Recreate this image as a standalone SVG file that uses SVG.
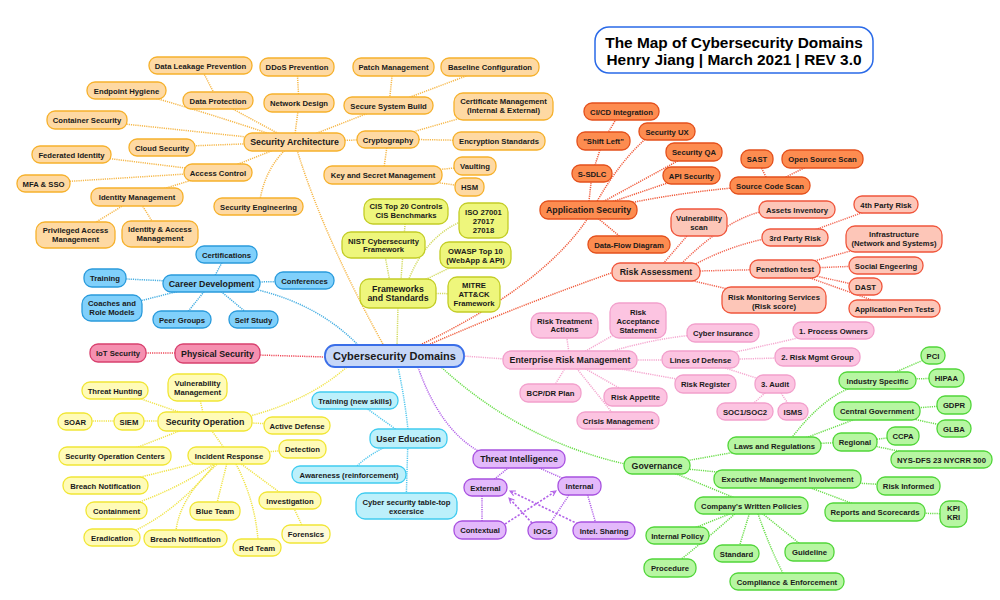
<svg xmlns="http://www.w3.org/2000/svg" width="1000" height="600" viewBox="0 0 1000 600">
<style>
text{font-family:"Liberation Sans",Arial,sans-serif;font-weight:bold;font-size:7.7px;text-anchor:middle;fill:#1a1a1a}
.m text{font-size:8.8px}
rect{stroke-width:1.3}
.sa rect{fill:#fed9a3;stroke:#f6b12c}
.fw rect{fill:#eef67c;stroke:#c3cd26}
.as rect{fill:#fd8c50;stroke:#e4501c}
.ra rect{fill:#fdc6b8;stroke:#f0563c}
.cd rect{fill:#80d0fb;stroke:#2a9bdc}
.ps rect{fill:#f590b0;stroke:#d8406e}
.so rect{fill:#fffbb8;stroke:#f1e636}
.ue rect{fill:#bcf0fb;stroke:#40ccf0}
.ti rect{fill:#e3b9fb;stroke:#a852e0}
.gv rect{fill:#b7f6a2;stroke:#52d63a}
.erm rect{fill:#fcc4e1;stroke:#f2a0cc}
.ctr rect{fill:#c6d7f8;stroke:#3a6ee8;stroke-width:1.8}
.ctr text{font-size:11px}
.ttl rect{fill:#fff;stroke:#2a6ae8;stroke-width:1.5}
.ttl text{font-size:15.4px;fill:#000}
#connectors path{fill:none;stroke-width:1.5;stroke-dasharray:1.2 1}
.csa{stroke:#f6b84a}.cfw{stroke:#d2da5e}.cas{stroke:#f05a3a}.cra{stroke:#f26450}.ccd{stroke:#45aee2}
.cps{stroke:#ee4a5a}.cso{stroke:#f0e448}.cue{stroke:#55c8ee}.cti{stroke:#b262e8}.cgv{stroke:#6ade4a}.cerm{stroke:#f5a8d0}
#connectors path.arr{stroke:#b262e8;stroke-width:1.6;stroke-dasharray:2.2 1.6;marker-end:url(#ah)}
</style>
<defs>
<marker id="ah" viewBox="0 0 8 8" refX="7" refY="4" markerWidth="7" markerHeight="7" orient="auto" markerUnits="userSpaceOnUse">
<path d="M1,1 L7,4 L1,7" fill="none" stroke="#b262e8" stroke-width="1.2"/>
</marker>
</defs>
<rect width="1000" height="600" fill="#fff"/>
<g id="connectors">
<!-- main branches -->
<path class="csa" d="M384,346 Q325,240 297,150"/>
<path class="cfw" d="M397,346 L398,306"/>
<path class="cas" d="M420,345 Q545,285 590,215"/>
<path class="cas" d="M428,345 Q520,305 614,272"/>
<path class="ccd" d="M258,290 Q320,305 360,347"/>
<path class="cps" d="M258,355 L326,357"/>
<path class="cso" d="M250,416 Q310,400 348,366"/>
<path class="cue" d="M398,367 Q405,400 408,430"/>
<path class="cti" d="M418,367 Q440,430 480,452"/>
<path class="cgv" d="M440,366 Q520,440 625,464"/>
<path class="cerm" d="M463,356 L505,359"/>
<!-- security architecture -->
<path class="csa" d="M294,142 L218,101"/>
<path class="csa" d="M218,101 L200,66"/>
<path class="csa" d="M294,142 Q200,110 126,90"/>
<path class="csa" d="M294,142 L87,120"/>
<path class="csa" d="M294,142 L162,147"/>
<path class="csa" d="M294,142 L218,172"/>
<path class="csa" d="M218,172 L72,154"/>
<path class="csa" d="M218,172 L43,183"/>
<path class="csa" d="M218,172 L137,197"/>
<path class="csa" d="M137,197 L75,235"/>
<path class="csa" d="M137,197 L160,234"/>
<path class="csa" d="M260,200 Q265,170 285,150"/>
<path class="csa" d="M294,142 L299,103"/>
<path class="csa" d="M299,103 L297,67"/>
<path class="csa" d="M294,142 L389,105"/>
<path class="csa" d="M389,105 L393,67"/>
<path class="csa" d="M389,105 L490,67"/>
<path class="csa" d="M294,142 L388,139"/>
<path class="csa" d="M388,139 L503,106"/>
<path class="csa" d="M388,139 L499,141"/>
<path class="csa" d="M388,139 L383,175"/>
<path class="csa" d="M383,175 L475,166"/>
<path class="csa" d="M383,175 L469,187"/>
<!-- frameworks -->
<path class="cfw" d="M392,293 L383,245"/>
<path class="cfw" d="M400,293 L406,211"/>
<path class="cfw" d="M404,293 Q420,240 460,222"/>
<path class="cfw" d="M398,293 L476,255"/>
<path class="cfw" d="M398,293 L474,294"/>
<!-- application security -->
<path class="cas" d="M588,210 L592,174"/>
<path class="cas" d="M592,174 L603,141"/>
<path class="cas" d="M603,141 L621,111"/>
<path class="cas" d="M595,205 Q620,160 650,135"/>
<path class="cas" d="M588,210 L694,152"/>
<path class="cas" d="M588,210 L691,175"/>
<path class="cas" d="M620,205 Q690,190 770,185"/>
<path class="cas" d="M770,185 L757,159"/>
<path class="cas" d="M770,185 L822,159"/>
<path class="cas" d="M588,210 L629,244"/>
<!-- risk assessment -->
<path class="cra" d="M656,272 L699,222"/>
<path class="cra" d="M680,265 Q730,215 770,210"/>
<path class="cra" d="M690,267 Q730,245 770,238"/>
<path class="cra" d="M795,237 L886,204"/>
<path class="cra" d="M656,272 L785,269"/>
<path class="cra" d="M785,269 L894,239"/>
<path class="cra" d="M785,269 L886,265"/>
<path class="cra" d="M785,269 L865,287"/>
<path class="cra" d="M785,269 L894,308"/>
<path class="cra" d="M656,272 L774,300"/>
<!-- career development -->
<path class="ccd" d="M211,283 L226,255"/>
<path class="ccd" d="M211,283 L105,278"/>
<path class="ccd" d="M211,283 L304,281"/>
<path class="ccd" d="M211,283 L112,308"/>
<path class="ccd" d="M211,283 L182,319"/>
<path class="ccd" d="M211,283 L254,319"/>
<!-- physical -->
<path class="cps" d="M217,353 L118,353"/>
<!-- security operation -->
<path class="cso" d="M205,421 L115,390"/>
<path class="cso" d="M205,421 L197,387"/>
<path class="cso" d="M205,421 L129,421"/>
<path class="cso" d="M129,421 L75,421"/>
<path class="cso" d="M205,421 L297,425"/>
<path class="cso" d="M205,421 L115,456"/>
<path class="cso" d="M205,421 L229,455"/>
<path class="cso" d="M229,455 L302,449"/>
<path class="cso" d="M229,455 L105,486"/>
<path class="cso" d="M222,458 Q180,490 116,510"/>
<path class="cso" d="M218,460 Q180,510 130,533"/>
<path class="cso" d="M222,460 Q180,495 176,531"/>
<path class="cso" d="M229,455 L215,511"/>
<path class="cso" d="M235,462 Q255,500 258,540"/>
<path class="cso" d="M229,455 L290,500"/>
<path class="cso" d="M290,500 L306,534"/>
<!-- user education -->
<path class="cue" d="M408,438 L355,400"/>
<path class="cue" d="M408,438 Q370,450 349,474"/>
<path class="cue" d="M408,438 L406,506"/>
<!-- threat intelligence -->
<path class="cti" d="M519,459 L485,487"/>
<path class="cti" d="M519,459 L580,486"/>
<path class="cti" d="M482,487 L482,530"/>
<path class="cti" d="M575,486 L545,531"/>
<path class="cti" d="M585,486 L598,531"/>
<path class="arr" d="M505,524 L556,491"/>
<path class="arr" d="M532,523 L509,498"/>
<path class="arr" d="M578,524 L510,491"/>
<!-- governance -->
<path class="cgv" d="M657,466 L775,445"/>
<path class="cgv" d="M790,440 Q820,400 850,388"/>
<path class="cgv" d="M800,440 L877,411"/>
<path class="cgv" d="M775,445 L855,442"/>
<path class="cgv" d="M877,380 L933,356"/>
<path class="cgv" d="M877,380 L947,378"/>
<path class="cgv" d="M877,411 L954,405"/>
<path class="cgv" d="M877,411 L954,428"/>
<path class="cgv" d="M855,442 L903,436"/>
<path class="cgv" d="M855,442 L941,460"/>
<path class="cgv" d="M657,466 L787,479"/>
<path class="cgv" d="M787,479 L908,486"/>
<path class="cgv" d="M787,479 L875,512"/>
<path class="cgv" d="M875,512 L953,514"/>
<path class="cgv" d="M657,466 L752,505"/>
<path class="cgv" d="M752,505 L677,535"/>
<path class="cgv" d="M752,505 L737,554"/>
<path class="cgv" d="M752,505 L810,552"/>
<path class="cgv" d="M745,505 Q700,545 670,568"/>
<path class="cgv" d="M755,505 Q770,550 787,581"/>
<!-- enterprise risk management -->
<path class="cerm" d="M570,360 L565,325"/>
<path class="cerm" d="M570,360 L638,321"/>
<path class="cerm" d="M600,355 Q660,335 723,333"/>
<path class="cerm" d="M570,360 L700,360"/>
<path class="cerm" d="M570,360 L705,384"/>
<path class="cerm" d="M570,360 L550,393"/>
<path class="cerm" d="M570,360 L635,397"/>
<path class="cerm" d="M570,360 L618,420"/>
<path class="cerm" d="M700,360 L834,330"/>
<path class="cerm" d="M700,360 L818,357"/>
<path class="cerm" d="M700,360 L775,384"/>
<path class="cerm" d="M775,384 L745,411"/>
<path class="cerm" d="M775,384 L793,411"/>
</g>

<g id="title" class="ttl"><rect x="595" y="27" width="278" height="46" rx="14"/><text x="734" y="48.4">The Map of Cybersecurity Domains</text><text x="734" y="64.8">Henry Jiang | March 2021 | REV 3.0</text></g>
<g id="center" class="ctr"><rect x="325" y="345" width="139" height="22" rx="10"/><text x="394.5" y="359.8">Cybersecurity Domains</text></g>

<!-- Security Architecture -->
<g id="security-architecture" class="sa m"><rect x="244" y="133" width="101" height="18" rx="8"/><text x="294.5" y="145.1">Security Architecture</text></g>
<g id="data-leakage-prevention" class="sa"><rect x="149" y="57" width="103" height="17" rx="8"/><text x="200.5" y="68.5">Data Leakage Prevention</text></g>
<g id="endpoint-hygiene" class="sa"><rect x="87" y="82" width="79" height="17" rx="8"/><text x="126.5" y="93.5">Endpoint Hygiene</text></g>
<g id="data-protection" class="sa"><rect x="183" y="92" width="70" height="17" rx="8"/><text x="218" y="103.5">Data Protection</text></g>
<g id="container-security" class="sa"><rect x="47" y="111" width="80" height="18" rx="8"/><text x="87" y="122.8">Container Security</text></g>
<g id="cloud-security" class="sa"><rect x="129" y="139" width="66" height="17" rx="8"/><text x="162" y="150.5">Cloud Security</text></g>
<g id="federated-identity" class="sa"><rect x="32" y="146" width="79" height="17" rx="8"/><text x="71.5" y="157.5">Federated Identity</text></g>
<g id="access-control" class="sa"><rect x="184" y="164" width="68" height="17" rx="8"/><text x="218" y="175.5">Access Control</text></g>
<g id="mfa-sso" class="sa"><rect x="17" y="175" width="53" height="17" rx="8"/><text x="43.5" y="186.5">MFA &amp; SSO</text></g>
<g id="identity-management" class="sa"><rect x="91" y="188" width="92" height="18" rx="8"/><text x="137" y="199.8">Identity Management</text></g>
<g id="privileged-access-management" class="sa"><rect x="36" y="222" width="79" height="26" rx="9"/><text x="75.5" y="233.3">Privileged Access</text><text x="75.5" y="242.3">Management</text></g>
<g id="identity-access-management" class="sa"><rect x="122" y="221" width="76" height="26" rx="9"/><text x="160" y="232.3">Identity &amp; Access</text><text x="160" y="241.3">Management</text></g>
<g id="security-engineering" class="sa"><rect x="214" y="198" width="89" height="17" rx="8"/><text x="258.5" y="209.5">Security Engineering</text></g>
<g id="ddos-prevention" class="sa"><rect x="260" y="58" width="74" height="18" rx="8"/><text x="297" y="69.8">DDoS Prevention</text></g>
<g id="network-design" class="sa"><rect x="264" y="94" width="70" height="18" rx="8"/><text x="299" y="105.8">Network Design</text></g>
<g id="patch-management" class="sa"><rect x="353" y="58" width="81" height="18" rx="8"/><text x="393.5" y="69.8">Patch Management</text></g>
<g id="baseline-configuration" class="sa"><rect x="441" y="58" width="98" height="18" rx="8"/><text x="490" y="69.8">Baseline Configuration</text></g>
<g id="secure-system-build" class="sa"><rect x="344" y="97" width="89" height="17" rx="8"/><text x="388.5" y="108.5">Secure System Build</text></g>
<g id="certificate-management" class="sa"><rect x="454" y="93" width="99" height="27" rx="9"/><text x="503.5" y="104.3">Certificate Management</text><text x="503.5" y="113.3">(Internal &amp; External)</text></g>
<g id="cryptography" class="sa"><rect x="357" y="131" width="62" height="17" rx="8"/><text x="388" y="142.5">Cryptography</text></g>
<g id="encryption-standards" class="sa"><rect x="453" y="132" width="92" height="18" rx="8"/><text x="499" y="143.8">Encryption Standards</text></g>
<g id="key-secret-management" class="sa"><rect x="324" y="166" width="118" height="18" rx="8"/><text x="383" y="177.8">Key and Secret Management</text></g>
<g id="vaulting" class="sa"><rect x="454" y="157" width="42" height="18" rx="8"/><text x="475" y="168.8">Vaulting</text></g>
<g id="hsm" class="sa"><rect x="455" y="178" width="29" height="18" rx="8"/><text x="469.5" y="189.8">HSM</text></g>

<!-- Frameworks -->
<g id="frameworks-standards" class="fw m"><rect x="360" y="279" width="76" height="29" rx="9"/><text x="398" y="292.1">Frameworks</text><text x="398" y="301.4">and Standards</text></g>
<g id="cis" class="fw"><rect x="364" y="199" width="84" height="25" rx="9"/><text x="406" y="209.3">CIS Top 20 Controls</text><text x="406" y="218.3">CIS Benchmarks</text></g>
<g id="iso" class="fw"><rect x="459" y="203" width="49" height="35" rx="9"/><text x="483.5" y="214.8">ISO 27001</text><text x="483.5" y="223.8">27017</text><text x="483.5" y="232.8">27018</text></g>
<g id="nist" class="fw"><rect x="342" y="232" width="83" height="26" rx="9"/><text x="383.5" y="243.5">NIST Cybersecurity</text><text x="383.5" y="252.2">Framework</text></g>
<g id="owasp" class="fw"><rect x="440" y="242" width="71" height="26" rx="9"/><text x="475.5" y="253.5">OWASP Top 10</text><text x="475.5" y="262.8">(WebApp &amp; API)</text></g>
<g id="mitre" class="fw"><rect x="448" y="277" width="52" height="35" rx="9"/><text x="474" y="288.1">MITRE</text><text x="474" y="297.1">ATT&amp;CK</text><text x="474" y="306.1">Framework</text></g>

<!-- Application Security -->
<g id="application-security" class="as m"><rect x="540" y="201" width="97" height="18" rx="8"/><text x="588.5" y="213.1">Application Security</text></g>
<g id="cicd" class="as"><rect x="584" y="103" width="75" height="17" rx="8"/><text x="621.5" y="114.5">CI/CD Integration</text></g>
<g id="shift-left" class="as"><rect x="577" y="132" width="53" height="18" rx="8"/><text x="603.5" y="143.8">"Shift Left"</text></g>
<g id="security-ux" class="as"><rect x="639" y="123" width="56" height="17" rx="8"/><text x="667" y="134.5">Security UX</text></g>
<g id="security-qa" class="as"><rect x="666" y="143" width="56" height="18" rx="8"/><text x="694" y="154.8">Security QA</text></g>
<g id="s-sdlc" class="as"><rect x="572" y="165" width="40" height="17" rx="8"/><text x="592" y="176.5">S-SDLC</text></g>
<g id="api-security" class="as"><rect x="663" y="167" width="57" height="17" rx="8"/><text x="691.5" y="178.5">API Security</text></g>
<g id="sast" class="as"><rect x="741" y="150" width="32" height="18" rx="8"/><text x="757" y="161.8">SAST</text></g>
<g id="open-source-scan" class="as"><rect x="782" y="150" width="81" height="18" rx="8"/><text x="822.5" y="161.8">Open Source Scan</text></g>
<g id="source-code-scan" class="as"><rect x="730" y="177" width="80" height="17" rx="8"/><text x="770" y="188.5">Source Code Scan</text></g>
<g id="data-flow-diagram" class="as"><rect x="588" y="236" width="82" height="17" rx="8"/><text x="629" y="247.5">Data-Flow Diagram</text></g>

<!-- Risk Assessment -->
<g id="risk-assessment" class="ra m"><rect x="612" y="263" width="88" height="18" rx="8"/><text x="656" y="275.1">Risk Assessment</text></g>
<g id="vulnerability-scan" class="ra"><rect x="671" y="209" width="56" height="27" rx="9"/><text x="699" y="221">Vulnerability</text><text x="699" y="230">scan</text></g>
<g id="assets-inventory" class="ra"><rect x="759" y="201" width="76" height="17" rx="8"/><text x="797" y="212.5">Assets Inventory</text></g>
<g id="fourth-party-risk" class="ra"><rect x="854" y="196" width="64" height="17" rx="8"/><text x="886" y="207.5">4th Party Risk</text></g>
<g id="third-party-risk" class="ra"><rect x="762" y="229" width="66" height="17" rx="8"/><text x="795" y="240.5">3rd Party Risk</text></g>
<g id="infrastructure" class="ra"><rect x="846" y="226" width="96" height="26" rx="9"/><text x="894" y="236.8">Infrastructure</text><text x="894" y="245.8">(Network and Systems)</text></g>
<g id="penetration-test" class="ra"><rect x="750" y="260" width="70" height="18" rx="8"/><text x="785" y="271.8">Penetration test</text></g>
<g id="social-engeering" class="ra"><rect x="849" y="257" width="74" height="17" rx="8"/><text x="886" y="268.5">Social Engeering</text></g>
<g id="dast" class="ra"><rect x="849" y="278" width="33" height="17" rx="8"/><text x="865.5" y="289.5">DAST</text></g>
<g id="application-pen-tests" class="ra"><rect x="849" y="300" width="91" height="17" rx="8"/><text x="894.5" y="311.5">Application Pen Tests</text></g>
<g id="risk-monitoring" class="ra"><rect x="722" y="287" width="104" height="26" rx="9"/><text x="774" y="299.5">Risk Monitoring Services</text><text x="774" y="308.5">(Risk score)</text></g>

<!-- Career Development -->
<g id="career-development" class="cd m"><rect x="163" y="275" width="97" height="17" rx="8"/><text x="211.5" y="286.6">Career Development</text></g>
<g id="certifications" class="cd"><rect x="196" y="246" width="61" height="17" rx="8"/><text x="226.5" y="257.5">Certifications</text></g>
<g id="training" class="cd"><rect x="84" y="269" width="42" height="18" rx="8"/><text x="105" y="280.8">Training</text></g>
<g id="conferences" class="cd"><rect x="275" y="272" width="59" height="17" rx="8"/><text x="304.5" y="283.5">Conferences</text></g>
<g id="coaches" class="cd"><rect x="82" y="295" width="60" height="26" rx="9"/><text x="112" y="306.1">Coaches and</text><text x="112" y="315.1">Role Models</text></g>
<g id="peer-groups" class="cd"><rect x="153" y="311" width="58" height="17" rx="8"/><text x="182" y="322.5">Peer Groups</text></g>
<g id="self-study" class="cd"><rect x="229" y="311" width="49" height="17" rx="8"/><text x="253.5" y="322.5">Self Study</text></g>

<!-- Physical Security -->
<g id="physical-security" class="ps m"><rect x="175" y="344" width="85" height="19" rx="8"/><text x="217.5" y="356.6">Physical Security</text></g>
<g id="iot-security" class="ps"><rect x="90" y="344" width="56" height="18" rx="8"/><text x="118" y="355.8">IoT Security</text></g>

<!-- Security Operation -->
<g id="security-operation" class="so m"><rect x="158" y="412" width="94" height="19" rx="8"/><text x="205" y="424.6">Security Operation</text></g>
<g id="threat-hunting" class="so"><rect x="82" y="382" width="66" height="17" rx="8"/><text x="115" y="393.5">Threat Hunting</text></g>
<g id="vulnerability-management" class="so"><rect x="168" y="374" width="59" height="27" rx="9"/><text x="197.5" y="385.8">Vulnerability</text><text x="197.5" y="395">Management</text></g>
<g id="soar" class="so"><rect x="58" y="413" width="34" height="17" rx="8"/><text x="75" y="424.5">SOAR</text></g>
<g id="siem" class="so"><rect x="114" y="413" width="30" height="17" rx="8"/><text x="129" y="424.5">SIEM</text></g>
<g id="active-defense" class="so"><rect x="264" y="417" width="66" height="17" rx="8"/><text x="297" y="428.5">Active Defense</text></g>
<g id="soc" class="so"><rect x="59" y="447" width="112" height="18" rx="8"/><text x="115" y="458.8">Security Operation Centers</text></g>
<g id="incident-response" class="so"><rect x="188" y="447" width="82" height="17" rx="8"/><text x="229" y="458.5">Incident Response</text></g>
<g id="detection" class="so"><rect x="279" y="440" width="47" height="18" rx="8"/><text x="302.5" y="451.8">Detection</text></g>
<g id="breach-notification-1" class="so"><rect x="63" y="477" width="85" height="17" rx="8"/><text x="105.5" y="488.5">Breach Notification</text></g>
<g id="containment" class="so"><rect x="86" y="502" width="61" height="17" rx="8"/><text x="116.5" y="513.5">Containment</text></g>
<g id="blue-team" class="so"><rect x="190" y="502" width="50" height="18" rx="8"/><text x="215" y="513.8">Blue Team</text></g>
<g id="investigation" class="so"><rect x="259" y="492" width="62" height="17" rx="8"/><text x="290" y="503.5">Investigation</text></g>
<g id="eradication" class="so"><rect x="84" y="529" width="56" height="17" rx="8"/><text x="112" y="540.5">Eradication</text></g>
<g id="breach-notification-2" class="so"><rect x="144" y="530" width="83" height="17" rx="8"/><text x="185.5" y="541.5">Breach Notification</text></g>
<g id="red-team" class="so"><rect x="233" y="539" width="48" height="17" rx="8"/><text x="257" y="550.5">Red Team</text></g>
<g id="forensics" class="so"><rect x="282" y="525" width="48" height="18" rx="8" style="fill:#fffbd8"/><text x="306" y="536.8">Forensics</text></g>

<!-- User Education -->
<g id="user-education" class="ue m"><rect x="370" y="429" width="77" height="19" rx="8"/><text x="408.5" y="441.6">User Education</text></g>
<g id="training-new-skills" class="ue"><rect x="312" y="392" width="86" height="17" rx="8"/><text x="355" y="403.5">Training (new skills)</text></g>
<g id="awareness" class="ue"><rect x="292" y="466" width="114" height="17" rx="8"/><text x="349" y="477.5">Awareness (reinforcement)</text></g>
<g id="table-top" class="ue"><rect x="356" y="493" width="101" height="26" rx="9"/><text x="406.5" y="504.5">Cyber security table-top</text><text x="406.5" y="513.5">excersice</text></g>

<!-- Threat Intelligence -->
<g id="threat-intelligence" class="ti m"><rect x="473" y="450" width="92" height="18" rx="8"/><text x="519" y="462.1">Threat Intelligence</text></g>
<g id="external" class="ti"><rect x="464" y="479" width="43" height="17" rx="8"/><text x="485.5" y="490.5">External</text></g>
<g id="internal" class="ti"><rect x="558" y="477" width="43" height="18" rx="8"/><text x="579.5" y="488.8">Internal</text></g>
<g id="contextual" class="ti"><rect x="454" y="521" width="52" height="18" rx="8"/><text x="480" y="532.8">Contextual</text></g>
<g id="iocs" class="ti"><rect x="528" y="522" width="29" height="17" rx="8"/><text x="542.5" y="533.5">IOCs</text></g>
<g id="intel-sharing" class="ti"><rect x="573" y="522" width="62" height="17" rx="8"/><text x="604" y="533.5">Intel. Sharing</text></g>

<!-- Governance -->
<g id="governance" class="gv m"><rect x="624" y="457" width="66" height="17" rx="8"/><text x="657" y="468.6">Governance</text></g>
<g id="laws-regulations" class="gv"><rect x="728" y="437" width="93" height="17" rx="8"/><text x="774.5" y="448.5">Laws and Regulations</text></g>
<g id="industry-specific" class="gv"><rect x="839" y="372" width="77" height="17" rx="8"/><text x="877.5" y="383.5">Industry Specific</text></g>
<g id="pci" class="gv"><rect x="921" y="347" width="24" height="17" rx="8"/><text x="933" y="358.5">PCI</text></g>
<g id="hipaa" class="gv"><rect x="929" y="369" width="35" height="18" rx="8"/><text x="946.5" y="380.8">HIPAA</text></g>
<g id="central-government" class="gv"><rect x="834" y="402" width="86" height="18" rx="8"/><text x="877" y="413.8">Central Government</text></g>
<g id="gdpr" class="gv"><rect x="937" y="396" width="34" height="18" rx="8"/><text x="954" y="407.8">GDPR</text></g>
<g id="glba" class="gv"><rect x="937" y="420" width="34" height="17" rx="8"/><text x="954" y="431.5">GLBA</text></g>
<g id="regional" class="gv"><rect x="833" y="433" width="44" height="18" rx="8"/><text x="855" y="444.8">Regional</text></g>
<g id="ccpa" class="gv"><rect x="887" y="427" width="32" height="18" rx="8"/><text x="903" y="438.8">CCPA</text></g>
<g id="nys-dfs" class="gv"><rect x="891" y="451" width="101" height="17" rx="8"/><text x="941.5" y="462.5">NYS-DFS 23 NYCRR 500</text></g>
<g id="executive-management" class="gv"><rect x="714" y="470" width="147" height="18" rx="8"/><text x="787.5" y="481.8">Executive Management Involvement</text></g>
<g id="risk-informed" class="gv"><rect x="877" y="477" width="63" height="18" rx="8"/><text x="908.5" y="488.8">Risk Informed</text></g>
<g id="reports-scorecards" class="gv"><rect x="825" y="503" width="100" height="18" rx="8"/><text x="875" y="514.8">Reports and Scorecards</text></g>
<g id="kpi-kri" class="gv"><rect x="940" y="501" width="27" height="26" rx="9"/><text x="953.5" y="510.5">KPI</text><text x="953.5" y="520">KRI</text></g>
<g id="written-policies" class="gv"><rect x="695" y="497" width="113" height="17" rx="8"/><text x="751.5" y="508.5">Company's Written Policies</text></g>
<g id="internal-policy" class="gv"><rect x="646" y="527" width="63" height="17" rx="8"/><text x="677.5" y="538.5">Internal Policy</text></g>
<g id="standard" class="gv"><rect x="714" y="545" width="45" height="17" rx="8"/><text x="736.5" y="556.5">Standard</text></g>
<g id="guideline" class="gv"><rect x="785" y="543" width="49" height="18" rx="8"/><text x="809.5" y="554.8">Guideline</text></g>
<g id="procedure" class="gv"><rect x="644" y="559" width="52" height="18" rx="8"/><text x="670" y="570.8">Procedure</text></g>
<g id="compliance" class="gv"><rect x="730" y="573" width="114" height="17" rx="8"/><text x="787" y="584.5">Compliance &amp; Enforcement</text></g>

<!-- Enterprise Risk Management -->
<g id="enterprise-risk-management" class="erm m"><rect x="503" y="351" width="134" height="18" rx="8"/><text x="570" y="363.1">Enterprise Risk Management</text></g>
<g id="risk-treatment" class="erm"><rect x="531" y="313" width="67" height="25" rx="9"/><text x="564.5" y="323.5">Risk Treatment</text><text x="564.5" y="332.2">Actions</text></g>
<g id="risk-acceptance" class="erm"><rect x="610" y="303" width="56" height="35" rx="9"/><text x="638" y="314.5">Risk</text><text x="638" y="323.5">Acceptance</text><text x="638" y="332.5">Statement</text></g>
<g id="cyber-insurance" class="erm"><rect x="687" y="324" width="72" height="18" rx="8"/><text x="723" y="335.8">Cyber Insurance</text></g>
<g id="process-owners" class="erm"><rect x="793" y="322" width="81" height="17" rx="8"/><text x="833.5" y="333.5">1. Process Owners</text></g>
<g id="lines-of-defense" class="erm"><rect x="662" y="351" width="77" height="17" rx="8"/><text x="700.5" y="362.5">Lines of Defense</text></g>
<g id="risk-mgmt-group" class="erm"><rect x="775" y="348" width="85" height="18" rx="8"/><text x="817.5" y="359.8">2. Risk Mgmt Group</text></g>
<g id="risk-register" class="erm"><rect x="675" y="375" width="61" height="18" rx="8"/><text x="705.5" y="386.8">Risk Register</text></g>
<g id="audit" class="erm"><rect x="755" y="375" width="40" height="18" rx="8"/><text x="775" y="386.8">3. Audit</text></g>
<g id="bcp-dr" class="erm"><rect x="520" y="384" width="61" height="18" rx="8"/><text x="550.5" y="395.8">BCP/DR Plan</text></g>
<g id="risk-appetite" class="erm"><rect x="604" y="388" width="63" height="18" rx="8"/><text x="635.5" y="399.8">Risk Appetite</text></g>
<g id="crisis-management" class="erm"><rect x="577" y="412" width="82" height="17" rx="8"/><text x="618" y="423.5">Crisis Management</text></g>
<g id="soc1-soc2" class="erm"><rect x="717" y="403" width="56" height="17" rx="8"/><text x="745" y="414.5">SOC1/SOC2</text></g>
<g id="isms" class="erm"><rect x="778" y="403" width="30" height="17" rx="8"/><text x="793" y="414.5">ISMS</text></g>
</svg>
